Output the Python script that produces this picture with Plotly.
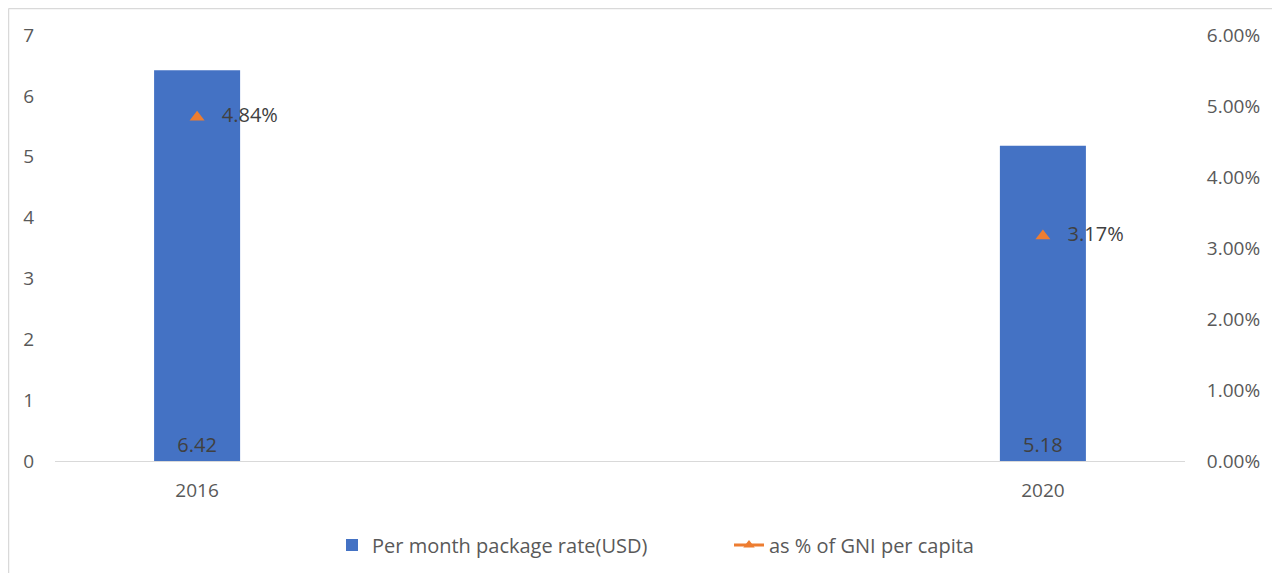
import plotly.graph_objects as go

years = ["2016", "2020"]
rate_usd = [6.42, 5.18]
gni_pct = [0.0484, 0.0317]
rate_labels = ["6.42", "5.18"]
pct_labels = ["4.84%", "3.17%"]

FONT = "Open Sans"
GRAY = "#595959"
DARK = "#404040"

# page body has an 8px margin, so the figure is sized to fit the window
W, H = 1264, 565
ML, MR, MT, MB = 47, 87, 27, 112
PW, PH = W - ML - MR, H - MT - MB

fig = go.Figure()
fig.add_trace(go.Bar(
    x=years, y=rate_usd, name="Per month package rate(USD)",
    marker=dict(color="#4472C4", line=dict(width=0)),
    width=0.1017,
    text=rate_labels,
    textposition="inside", insidetextanchor="start",
    textfont=dict(family=FONT, size=20, color=DARK),
    hoverinfo="x+y",
))
fig.add_trace(go.Scatter(
    x=years, y=gni_pct, yaxis="y2", mode="markers+text",
    marker=dict(symbol="triangle-up", size=13, color="#ED7D31"),
    text=pct_labels, texttemplate="\u00a0\u00a0\u00a0%{text}",
    textposition="middle right",
    textfont=dict(family=FONT, size=20, color=DARK),
    showlegend=False, name="as % of GNI per capita",
))
fig.add_trace(go.Scatter(
    x=[None], y=[None], yaxis="y2", mode="lines+markers",
    line=dict(color="#ED7D31", width=3),
    marker=dict(symbol="triangle-up", size=10, color="#ED7D31"),
    name="as % of GNI per capita",
))

fig.update_layout(
    width=W, height=H,
    margin=dict(l=ML, r=MR, t=MT, b=MB, autoexpand=False),
    paper_bgcolor="white", plot_bgcolor="white",
    font=dict(family=FONT, size=19, color=GRAY),
    xaxis=dict(
        type="category", range=[-0.168, 1.168],
        showgrid=False, zeroline=False,
        showline=True, linecolor="#D9D9D9", linewidth=1,
        ticks="outside", ticklen=12, tickcolor="rgba(0,0,0,0)",
        tickfont=dict(size=19, color=GRAY),
    ),
    yaxis=dict(
        range=[0, 7], dtick=1, showgrid=False, zeroline=False,
        showline=False, ticks="outside", ticklen=16, tickcolor="rgba(0,0,0,0)",
        tickfont=dict(size=19, color=GRAY),
    ),
    yaxis2=dict(
        range=[0, 0.06], overlaying="y", side="right",
        tickformat=".2%", dtick=0.01, showgrid=False, zeroline=False,
        showline=False, ticks="outside", ticklen=17, tickcolor="rgba(0,0,0,0)",
        tickfont=dict(size=19, color=GRAY),
    ),
    legend=dict(
        orientation="h", x=(324 - ML) / PW, xanchor="left",
        y=-84 / PH, yanchor="middle",
        font=dict(size=20, color=GRAY),
        entrywidth=352, entrywidthmode="pixels",
        itemwidth=30,
    ),
    shapes=[
        dict(type="line", xref="paper", yref="paper",
             x0=-(ML - 0.5) / PW, x1=(PW + MR + 20) / PW,
             y0=(PH + MT - 0.5) / PH, y1=(PH + MT - 0.5) / PH,
             line=dict(color="#D9D9D9", width=1.5)),
        dict(type="line", xref="paper", yref="paper",
             x0=-(ML - 0.5) / PW, x1=-(ML - 0.5) / PW,
             y0=(PH + MT - 0.5) / PH, y1=-(MB + 5) / PH,
             line=dict(color="#D9D9D9", width=1.5)),
    ],
)

fig.write_html("out.html")
